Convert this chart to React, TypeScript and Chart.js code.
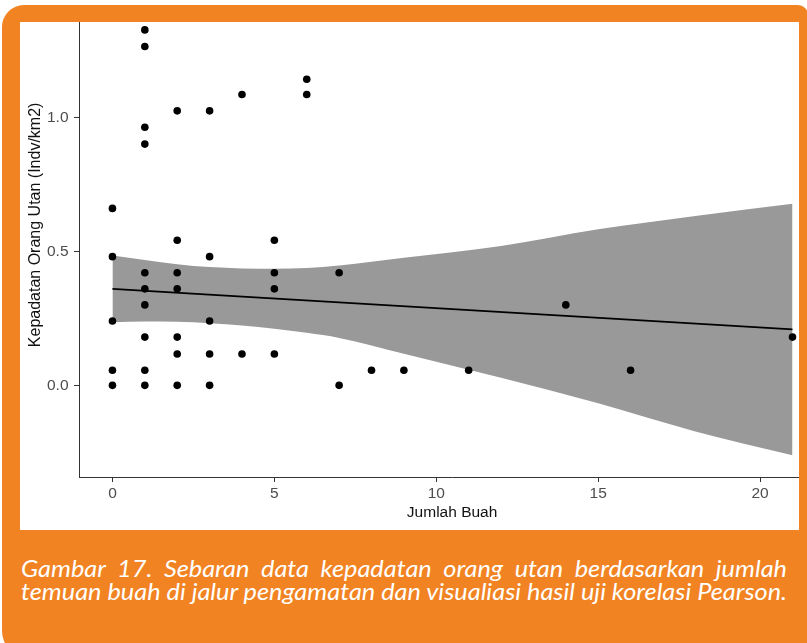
import { useEffect, useLayoutEffect, useRef, useState } from 'react';
import { Chart, registerables } from 'chart.js';

Chart.register(...registerables);

// Scatter points: Jumlah Buah (x) vs Kepadatan Orang Utan (y)
const pointX = [
  0, 0, 0, 0, 0,
  1, 1, 1, 1, 1, 1, 1, 1, 1, 1,
  2, 2, 2, 2, 2, 2, 2,
  3, 3, 3, 3, 3,
  4, 4,
  5, 5, 5, 5,
  6, 6,
  7, 7,
  8, 9, 11, 14, 16, 21,
];
const pointY = [
  0.66, 0.48, 0.24, 0.056, 0,
  1.326, 1.264, 0.963, 0.9, 0.42, 0.36, 0.3, 0.18, 0.056, 0,
  1.024, 0.541, 0.42, 0.36, 0.18, 0.117, 0,
  1.024, 0.48, 0.24, 0.117, 0,
  1.085, 0.117,
  0.541, 0.42, 0.36, 0.117,
  1.142, 1.085,
  0.42, 0,
  0.056, 0.056, 0.056, 0.3, 0.056, 0.18,
];

// Linear fit line
const fitX = [0, 21];
const fitY = [0.36, 0.209];

// Confidence band
const bandX = [0, 1, 2, 3, 4, 5, 6, 7, 9, 12, 15, 18, 21];
const bandUpper = [0.484, 0.468, 0.452, 0.441, 0.436, 0.435, 0.438, 0.447, 0.476, 0.52, 0.582, 0.632, 0.677];
const bandLower = [0.235, 0.238, 0.237, 0.232, 0.223, 0.211, 0.196, 0.177, 0.118, 0.028, -0.067, -0.172, -0.261];

const xTicks = [0, 5, 10, 15, 20];
const yTicks = [0, 0.5, 1.0];

const xTitle = 'Jumlah Buah';
const yTitle = 'Kepadatan Orang Utan (Indv/km2)';
const captionLine1 = 'Gambar 17. Sebaran data kepadatan orang utan berdasarkan jumlah';
const captionLine2 = 'temuan buah di jalur pengamatan dan visualiasi hasil uji korelasi Pearson.';

const ORANGE = '#F28322';
const FONT = "'Liberation Sans', Arial, sans-serif";

function Caption() {
  const line2Ref = useRef<HTMLSpanElement | null>(null);
  const [w, setW] = useState(766);
  const [k, setK] = useState(1);
  useLayoutEffect(() => {
    const el = line2Ref.current;
    if (!el) return;
    const width = el.getBoundingClientRect().width;
    if (width > 0) {
      setW(width);
      setK(766 / width);
    }
  }, []);
  const textStyle: React.CSSProperties = {
    fontFamily: "Lato, 'Open Sans', sans-serif",
    fontStyle: 'italic',
    fontSize: 24,
    lineHeight: '23px',
    color: '#ffffff',
  };
  return (
    <div
      style={{
        position: 'absolute',
        left: 21,
        top: 556,
        width: w,
        transform: `scaleX(${k})`,
        transformOrigin: 'left top',
        ...textStyle,
      }}
    >
      <div style={{ textAlign: 'justify', textAlignLast: 'justify' as any }}>{captionLine1}</div>
      <div>
        <span ref={line2Ref} style={{ display: 'inline-block', whiteSpace: 'nowrap' }}>
          {captionLine2}
        </span>
      </div>
    </div>
  );
}

export default function App() {
  const canvasRef = useRef<HTMLCanvasElement | null>(null);

  useEffect(() => {
    const canvas = canvasRef.current;
    if (!canvas) return;
    const points = pointX.map((x, i) => ({ x, y: pointY[i] }));
    const fit = fitX.map((x, i) => ({ x, y: fitY[i] }));
    const upper = bandX.map((x, i) => ({ x, y: bandUpper[i] }));
    const lower = bandX.map((x, i) => ({ x, y: bandLower[i] }));

    const chart = new Chart(canvas, {
      type: 'scatter',
      data: {
        datasets: [
          {
            type: 'scatter',
            data: points,
            backgroundColor: '#000000',
            borderColor: '#000000',
            borderWidth: 0,
            pointRadius: 3.8,
            pointHoverRadius: 3.8,
          },
          {
            type: 'line',
            data: fit,
            borderColor: '#000000',
            borderWidth: 1.8,
            pointRadius: 0,
            fill: false,
          },
          {
            type: 'line',
            data: upper,
            borderColor: 'rgba(0,0,0,0)',
            borderWidth: 0,
            backgroundColor: '#999999',
            pointRadius: 0,
            fill: '+1',
            cubicInterpolationMode: 'monotone',
          },
          {
            type: 'line',
            data: lower,
            borderColor: 'rgba(0,0,0,0)',
            borderWidth: 0,
            pointRadius: 0,
            fill: false,
            cubicInterpolationMode: 'monotone',
          },
        ] as any,
      },
      options: {
        animation: false,
        responsive: true,
        maintainAspectRatio: false,
        layout: { padding: 0 },
        plugins: {
          legend: { display: false },
          tooltip: { enabled: false },
        },
        scales: {
          x: {
            type: 'linear',
            min: -1.033,
            max: 22.01,
            afterBuildTicks: (s: any) => {
              s.ticks = xTicks.map((v) => ({ value: v }));
            },
            afterFit: (s: any) => {
              s.height = 53;
              s.paddingLeft = 0;
              s.paddingRight = 0;
              s.paddingTop = 0;
              s.paddingBottom = 0;
            },
            ticks: {
              color: '#4D4D4D',
              font: { family: FONT, size: 15.5 },
              padding: 2,
              maxRotation: 0,
              callback: (v: any) => String(v),
            },
            grid: {
              display: true,
              drawOnChartArea: false,
              drawTicks: true,
              tickLength: 5,
              color: '#333333',
              lineWidth: 1,
            },
            border: { display: true, color: '#333333', width: 1 },
            title: {
              display: true,
              text: xTitle,
              color: '#111111',
              font: { family: FONT, size: 15.5 },
              padding: { top: 0, bottom: 7.7 },
            },
          },
          y: {
            type: 'linear',
            min: -0.342,
            max: 1.539,
            afterBuildTicks: (s: any) => {
              s.ticks = yTicks.map((v) => ({ value: v }));
            },
            afterFit: (s: any) => {
              s.width = 59;
              s.paddingLeft = 0;
              s.paddingRight = 0;
              s.paddingTop = 0;
              s.paddingBottom = 0;
            },
            ticks: {
              color: '#4D4D4D',
              font: { family: FONT, size: 15.5 },
              padding: 5.5,
              callback: (v: any) => Number(v).toFixed(1),
            },
            grid: {
              display: true,
              drawOnChartArea: false,
              drawTicks: true,
              tickLength: 5,
              color: '#333333',
              lineWidth: 1,
            },
            border: { display: true, color: '#333333', width: 1 },
            title: {
              display: true,
              text: yTitle,
              color: '#111111',
              font: { family: FONT, size: 16 },
              padding: { top: 6, bottom: 0 },
            },
          },
        },
      } as any,
    });
    return () => chart.destroy();
  }, []);

  return (
    <div
      style={{
        position: 'absolute',
        left: 0,
        top: 0,
        width: 807,
        height: 643,
        overflow: 'hidden',
        background: '#ffffff',
      }}
    >
      <div
        style={{
          position: 'absolute',
          left: 2,
          top: 5,
          width: 806,
          height: 652,
          background: ORANGE,
          borderRadius: '22px 10px 10px 26px',
        }}
      />
      <div
        style={{
          position: 'absolute',
          left: 20,
          top: 22,
          width: 779,
          height: 508,
          overflow: 'hidden',
          background: '#ffffff',
        }}
      >
        <div style={{ position: 'absolute', left: 0, top: -53, width: 809, height: 561 }}>
          <canvas ref={canvasRef} />
        </div>
      </div>
      <Caption />
    </div>
  );
}
